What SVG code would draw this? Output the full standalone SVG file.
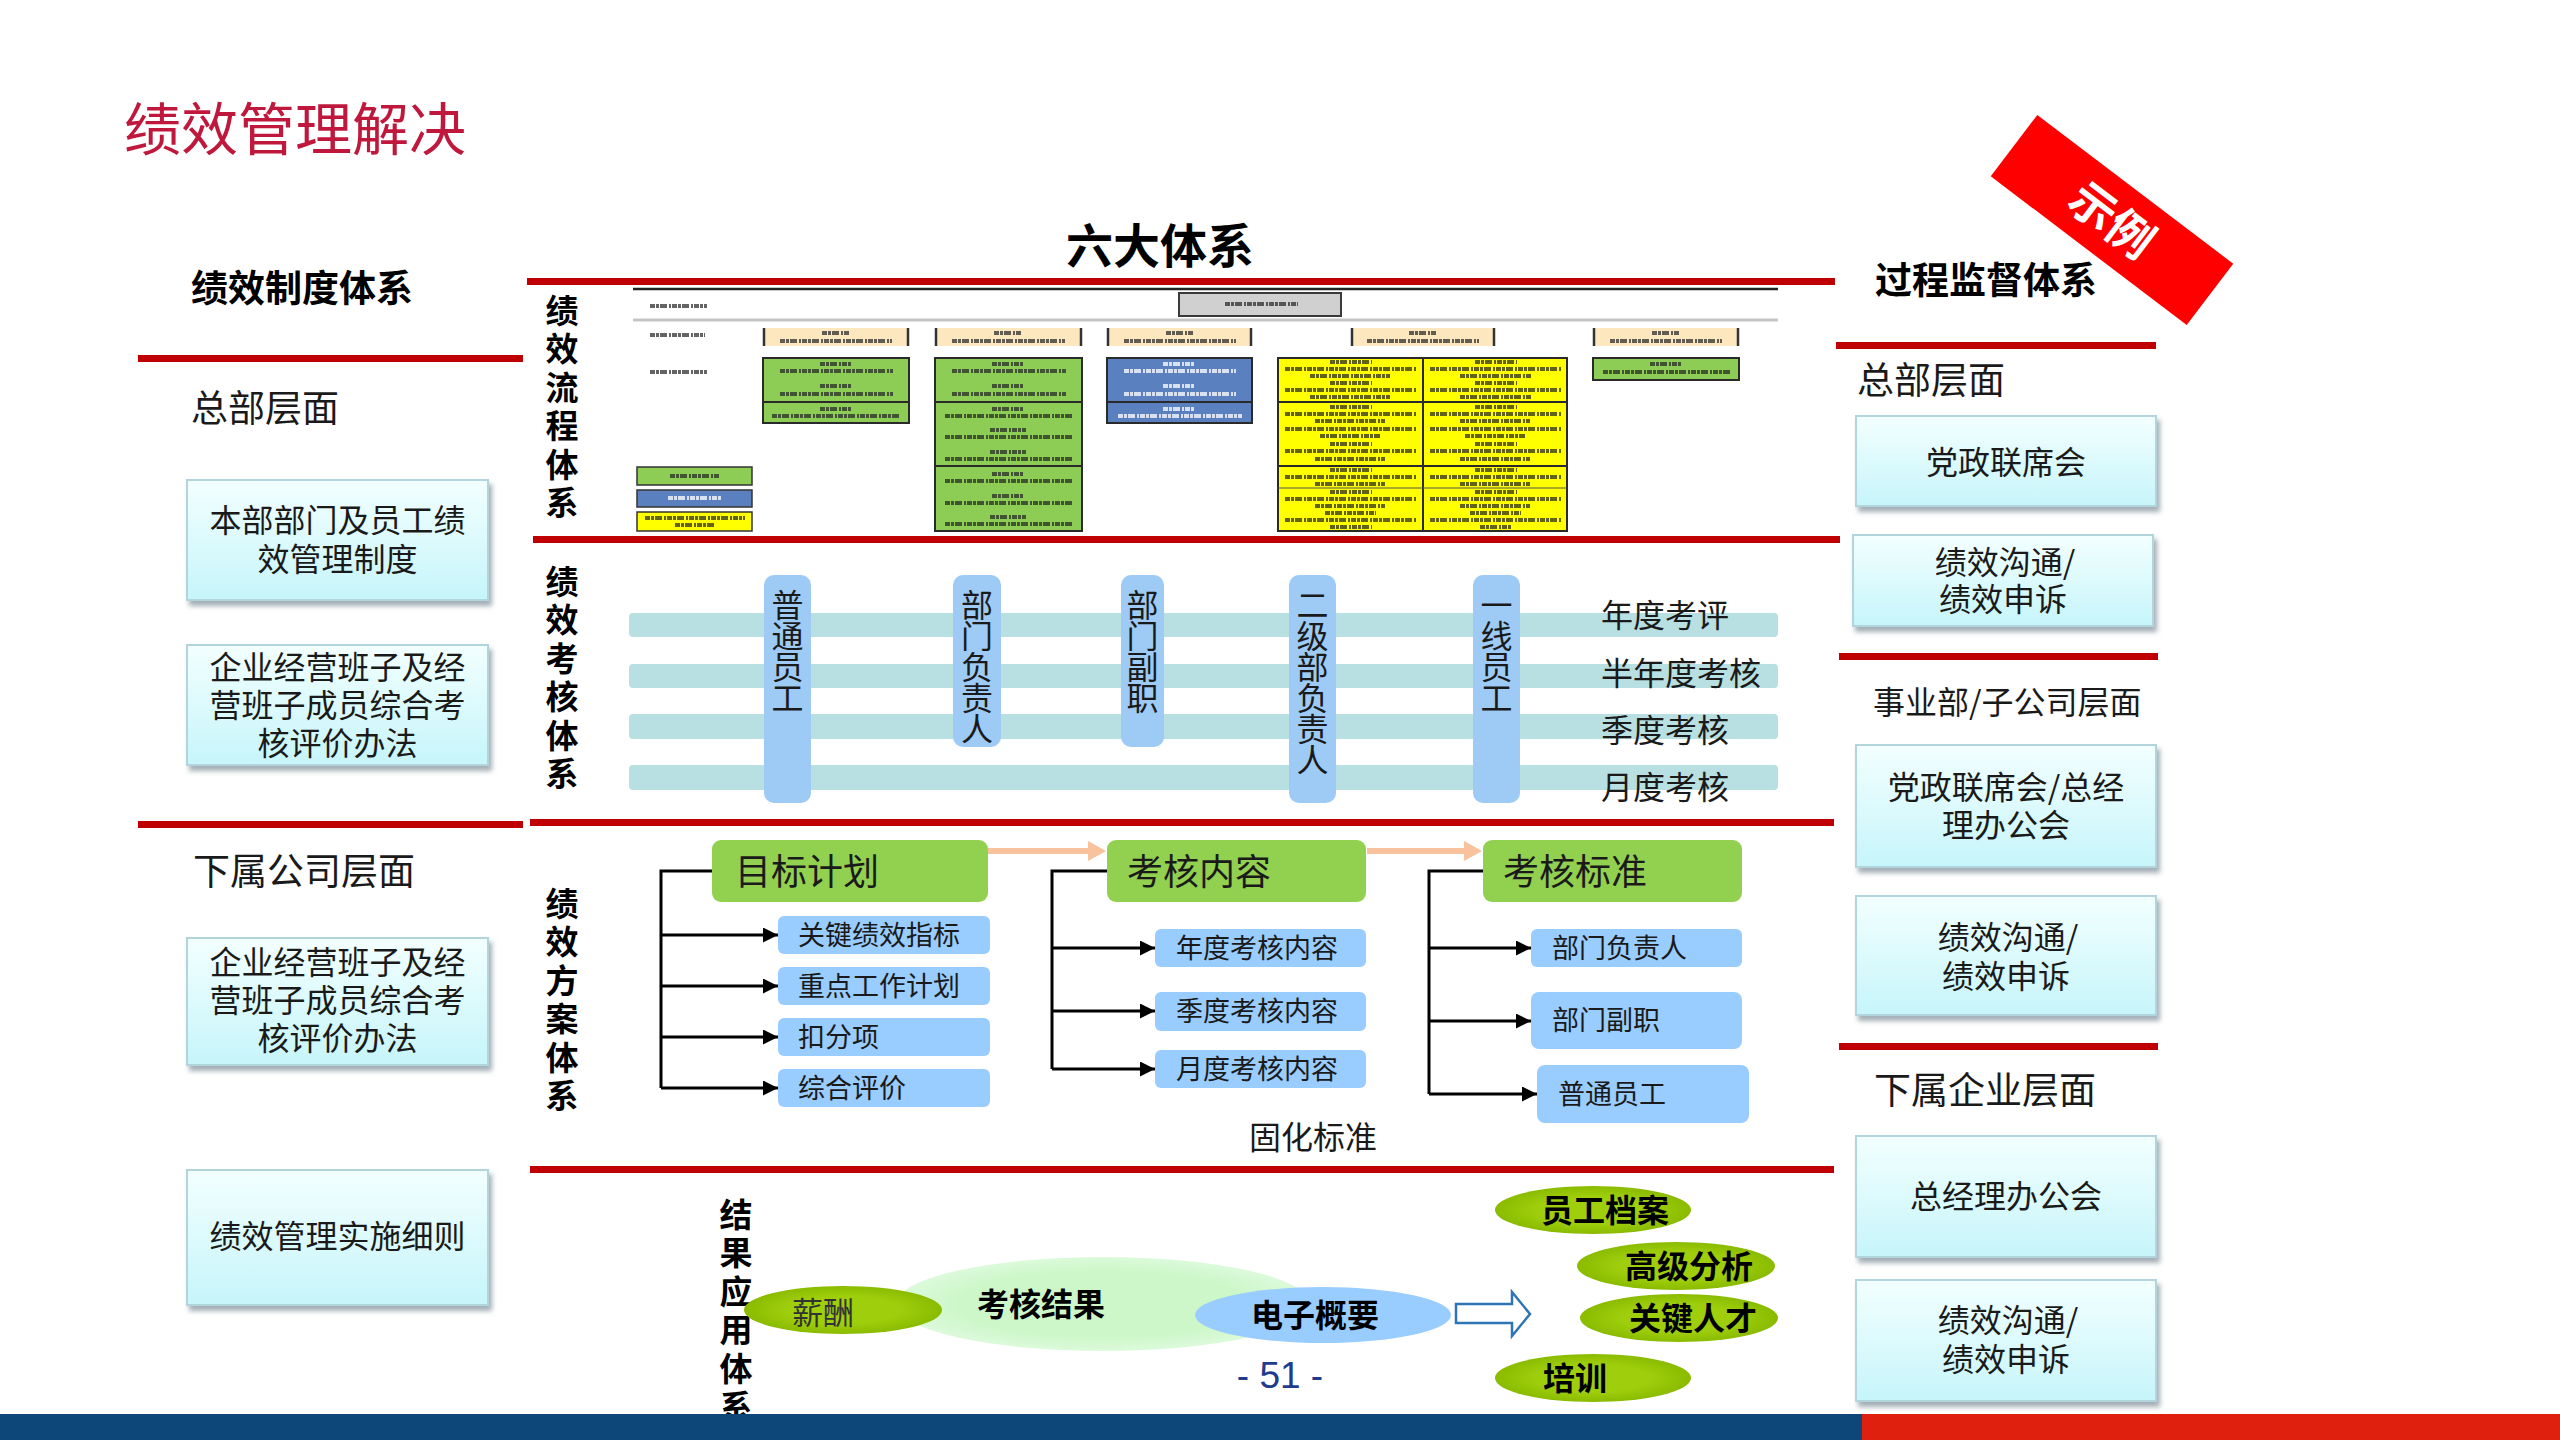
<svg xmlns="http://www.w3.org/2000/svg" width="2560" height="1440" viewBox="0 0 2560 1440">
<defs>
  <linearGradient id="cy" x1="0" y1="0" x2="0" y2="1">
    <stop offset="0" stop-color="#f3ffff"/>
    <stop offset="1" stop-color="#c6f5fa"/>
  </linearGradient>
  <filter id="sh" x="-5%" y="-10%" width="115%" height="130%">
    <feDropShadow dx="3" dy="5" stdDeviation="2.5" flood-color="#7c8c96" flood-opacity="0.7"/>
  </filter>
  <radialGradient id="yg" cx="0.5" cy="0.5" r="0.5">
    <stop offset="0.55" stop-color="#9fcf0c"/>
    <stop offset="1" stop-color="#8bbb00"/>
  </radialGradient>
  <radialGradient id="lg" cx="0.5" cy="0.5" r="0.5">
    <stop offset="0.7" stop-color="#cdf7c9"/>
    <stop offset="1" stop-color="#dcfadb"/>
  </radialGradient>
  <marker id="ah" viewBox="0 0 10 10" refX="10" refY="5" markerWidth="5" markerHeight="5" orient="auto" markerUnits="strokeWidth">
    <path d="M0,0 L10,5 L0,10 z" fill="#000"/>
  </marker>
</defs>
<style>
  text{font-family:"Noto Sans CJK SC","Noto Sans",sans-serif;fill:#1a1a1a}
  .t32{font-size:32px}
  .t37{font-size:37px}
  .t27{font-size:27px}
  .t36{font-size:36px}
  .b37{font-size:37px;font-weight:bold;fill:#000}
  .b32{font-size:32px;font-weight:bold;fill:#000}
  .v{font-size:33px;font-weight:bold;fill:#000;writing-mode:vertical-rl;letter-spacing:5.5px}
  .vp{font-size:32px;writing-mode:vertical-rl;letter-spacing:-1px}
  .mid{text-anchor:middle}
  .rl{fill:#c00000}
  .box{fill:url(#cy);stroke:#b2d4dc;stroke-width:2;filter:url(#sh)}
  .band{fill:#b8dfe1}
  .pill{fill:#9dcbf6}
  .gh{fill:#92d050}
  .bb{fill:#99ccff}
  .conn{stroke:#000;stroke-width:3;fill:none}
  .ye{fill:url(#yg)}
  .st{stroke:#222;stroke-width:4;stroke-dasharray:5 1 3 1 7 2 2 1;opacity:.7;fill:none}
  .sw{stroke:#eef2fb;stroke-width:4;stroke-dasharray:5 1 3 1 7 2 2 1;opacity:.85;fill:none}
  .bd{stroke:#2a2a2a;stroke-width:2;fill:none}
</style>
<rect width="2560" height="1440" fill="#fff"/>

<!-- title -->
<text x="124" y="150" style="font-size:57px;fill:#c0183c">绩效管理解决</text>

<!-- red separator lines -->
<g id="separators">
  <rect class="rl" x="138" y="355" width="385" height="7"/>
  <rect class="rl" x="138" y="821" width="385" height="7"/>
  <rect class="rl" x="527" y="278" width="1308" height="7"/>
  <rect class="rl" x="533" y="536" width="1307" height="7"/>
  <rect class="rl" x="530" y="819" width="1304" height="7"/>
  <rect class="rl" x="530" y="1166" width="1304" height="7"/>
  <rect class="rl" x="1836" y="342" width="320" height="7"/>
  <rect class="rl" x="1839" y="653" width="319" height="7"/>
  <rect class="rl" x="1839" y="1043" width="319" height="7"/>
</g>

<!-- left column -->
<g id="left-column">
  <text class="b37" x="191" y="302">绩效制度体系</text>
  <text class="t37" x="191" y="422">总部层面</text>
  <text class="t37" x="193" y="885">下属公司层面</text>
</g>
<g id="box-l1">
  <rect class="box" x="187" y="480" width="301" height="120"/>
  <text class="t32 mid"><tspan x="337.5" y="532">本部部门及员工绩</tspan><tspan x="337.5" y="571">效管理制度</tspan></text>
</g>
<g id="box-l2">
  <rect class="box" x="187" y="645" width="301" height="120"/>
  <text class="t32 mid"><tspan x="337.5" y="679">企业经营班子及经</tspan><tspan x="337.5" y="717">营班子成员综合考</tspan><tspan x="337.5" y="755">核评价办法</tspan></text>
</g>
<g id="box-l3">
  <rect class="box" x="187" y="938" width="301" height="127"/>
  <text class="t32 mid"><tspan x="337.5" y="974">企业经营班子及经</tspan><tspan x="337.5" y="1012">营班子成员综合考</tspan><tspan x="337.5" y="1050">核评价办法</tspan></text>
</g>
<g id="box-l4">
  <rect class="box" x="187" y="1170" width="301" height="135"/>
  <text class="t32 mid" x="337.5" y="1248">绩效管理实施细则</text>
</g>

<!-- right column -->
<g id="right-column">
  <text class="b37" x="1875" y="294">过程监督体系</text>
  <text class="t37" x="1857" y="394">总部层面</text>
  <text class="t32" x="1873" y="714">事业部/子公司层面</text>
  <text class="t37" x="1874" y="1104">下属企业层面</text>
</g>
<g id="box-r1">
  <rect class="box" x="1856" y="416" width="300" height="90"/>
  <text class="t32 mid" x="2006" y="474">党政联席会</text>
</g>
<g id="box-r2">
  <rect class="box" x="1853" y="535" width="300" height="91"/>
  <text class="t32 mid"><tspan x="2005" y="574">绩效沟通/</tspan><tspan x="2003" y="611">绩效申诉</tspan></text>
</g>
<g id="box-r3">
  <rect class="box" x="1856" y="745" width="300" height="122"/>
  <text class="t32 mid"><tspan x="2006" y="799">党政联席会/总经</tspan><tspan x="2006" y="837">理办公会</tspan></text>
</g>
<g id="box-r4">
  <rect class="box" x="1856" y="896" width="300" height="119"/>
  <text class="t32 mid"><tspan x="2008" y="949">绩效沟通/</tspan><tspan x="2006" y="988">绩效申诉</tspan></text>
</g>
<g id="box-r5">
  <rect class="box" x="1856" y="1136" width="300" height="121"/>
  <text class="t32 mid" x="2006" y="1208">总经理办公会</text>
</g>
<g id="box-r6">
  <rect class="box" x="1856" y="1280" width="300" height="121"/>
  <text class="t32 mid"><tspan x="2008" y="1332">绩效沟通/</tspan><tspan x="2006" y="1371">绩效申诉</tspan></text>
</g>

<!-- banner -->
<g id="banner" transform="translate(2112 220) rotate(37.2)">
  <rect x="-123" y="-38.5" width="246" height="77" fill="#ff0000"/>
  <text x="0" y="17" text-anchor="middle" style="font-size:46px;font-weight:bold;fill:#fff">示例</text>
</g>

<!-- center heading -->
<text class="mid" x="1160" y="263" style="font-size:47px;font-weight:bold;fill:#000">六大体系</text>

<!-- section 1: process chart -->
<g id="sec1-label">
  <text class="v" x="562" y="293.5">绩效流程体系</text>
</g>
<g id="process-chart">
  <line x1="633" y1="289" x2="1778" y2="289" stroke="#222" stroke-width="2.5"/>
  <line x1="633" y1="320" x2="1778" y2="320" stroke="#c6c6c6" stroke-width="3"/>
  <line class="st" x1="650" y1="306" x2="707" y2="306"/>
  <line class="st" x1="650" y1="335" x2="705" y2="335"/>
  <line class="st" x1="650" y1="372" x2="707" y2="372"/>
  <rect x="1179" y="293" width="162" height="23" fill="#d0d0d0" stroke="#3a3a3a" stroke-width="2"/>
  <line class="st" x1="1225" y1="304" x2="1298" y2="304"/>
  <!-- header boxes -->
  <g fill="#fde7bf">
    <rect x="763" y="328" width="146" height="18"/>
    <rect x="935" y="328" width="147" height="18"/>
    <rect x="1107" y="328" width="145" height="18"/>
    <rect x="1351" y="328" width="144" height="18"/>
    <rect x="1593" y="328" width="146" height="18"/>
  </g>
  <g stroke="#333" stroke-width="2.5">
    <line x1="764" y1="328" x2="764" y2="346"/><line x1="908" y1="328" x2="908" y2="346"/>
    <line x1="936" y1="328" x2="936" y2="346"/><line x1="1081" y1="328" x2="1081" y2="346"/>
    <line x1="1108" y1="328" x2="1108" y2="346"/><line x1="1251" y1="328" x2="1251" y2="346"/>
    <line x1="1352" y1="328" x2="1352" y2="346"/><line x1="1494" y1="328" x2="1494" y2="346"/>
    <line x1="1594" y1="328" x2="1594" y2="346"/><line x1="1738" y1="328" x2="1738" y2="346"/>
  </g>
  <g class="st">
    <line x1="822" y1="333" x2="850" y2="333"/><line x1="780" y1="341" x2="892" y2="341"/>
    <line x1="994" y1="333" x2="1022" y2="333"/><line x1="952" y1="341" x2="1065" y2="341"/>
    <line x1="1166" y1="333" x2="1194" y2="333"/><line x1="1124" y1="341" x2="1236" y2="341"/>
    <line x1="1409" y1="333" x2="1437" y2="333"/><line x1="1367" y1="341" x2="1479" y2="341"/>
    <line x1="1652" y1="333" x2="1680" y2="333"/><line x1="1610" y1="341" x2="1722" y2="341"/>
  </g>
  <!-- col1 green -->
  <rect x="763" y="358" width="146" height="65" fill="#8dcc55" stroke="#2a2a2a" stroke-width="2"/>
  <line class="bd" x1="763" y1="402" x2="909" y2="402"/>
  <!-- col2 green -->
  <rect x="935" y="358" width="147" height="173" fill="#8dcc55" stroke="#2a2a2a" stroke-width="2"/>
  <line class="bd" x1="935" y1="402" x2="1082" y2="402"/>
  <line class="bd" x1="935" y1="466" x2="1082" y2="466"/>
  <!-- col3 blue -->
  <rect x="1107" y="358" width="145" height="65" fill="#5a80bf" stroke="#2a2a2a" stroke-width="2"/>
  <line class="bd" x1="1107" y1="402" x2="1252" y2="402"/>
  <!-- col4 yellow -->
  <rect x="1278" y="358" width="289" height="173" fill="#ffff00" stroke="#2a2a2a" stroke-width="2"/>
  <line class="bd" x1="1423" y1="358" x2="1423" y2="531"/>
  <line class="bd" x1="1278" y1="402" x2="1567" y2="402"/>
  <line class="bd" x1="1278" y1="466" x2="1567" y2="466"/>
  <line x1="1278" y1="488" x2="1567" y2="488" stroke="#555" stroke-width="1"/>
  <!-- col5 green -->
  <rect x="1593" y="358" width="146" height="22" fill="#8dcc55" stroke="#2a2a2a" stroke-width="2"/>
  <!-- legend -->
  <rect x="637" y="467" width="115" height="18" fill="#8dcc55" stroke="#333" stroke-width="1.5"/>
  <rect x="637" y="490" width="115" height="17" fill="#5a80bf" stroke="#333" stroke-width="1.5"/>
  <rect x="637" y="512" width="115" height="19" fill="#ffff00" stroke="#333" stroke-width="1.5"/>
  <line class="st" x1="670" y1="476" x2="720" y2="476"/>
  <line class="sw" x1="668" y1="498" x2="722" y2="498"/>
  <line class="st" x1="645" y1="518" x2="745" y2="518"/>
  <line class="st" x1="675" y1="525" x2="715" y2="525"/>
  <!-- pseudo text in blocks -->
  <g class="st">
    <line x1="820" y1="364" x2="852" y2="364"/><line x1="780" y1="371" x2="893" y2="371"/>
    <line x1="820" y1="386" x2="852" y2="386"/><line x1="780" y1="394" x2="893" y2="394"/>
    <line x1="820" y1="409" x2="852" y2="409"/><line x1="772" y1="416" x2="900" y2="416"/>
    <line x1="992" y1="364" x2="1024" y2="364"/><line x1="952" y1="371" x2="1066" y2="371"/>
    <line x1="992" y1="386" x2="1024" y2="386"/><line x1="952" y1="394" x2="1066" y2="394"/>
    <line x1="992" y1="409" x2="1024" y2="409"/><line x1="945" y1="416" x2="1072" y2="416"/>
    <line x1="990" y1="430" x2="1026" y2="430"/><line x1="945" y1="437" x2="1072" y2="437"/>
    <line x1="990" y1="452" x2="1026" y2="452"/><line x1="945" y1="459" x2="1072" y2="459"/>
    <line x1="992" y1="474" x2="1024" y2="474"/><line x1="945" y1="481" x2="1072" y2="481"/>
    <line x1="992" y1="496" x2="1024" y2="496"/><line x1="945" y1="503" x2="1072" y2="503"/>
    <line x1="990" y1="517" x2="1026" y2="517"/><line x1="945" y1="524" x2="1072" y2="524"/>
    <line x1="1650" y1="364" x2="1682" y2="364"/><line x1="1603" y1="372" x2="1730" y2="372"/>
  </g>
  <g class="sw">
    <line x1="1163" y1="364" x2="1195" y2="364"/><line x1="1124" y1="371" x2="1236" y2="371"/>
    <line x1="1163" y1="386" x2="1195" y2="386"/><line x1="1124" y1="394" x2="1236" y2="394"/>
    <line x1="1163" y1="409" x2="1195" y2="409"/><line x1="1118" y1="416" x2="1242" y2="416"/>
  </g>
  <g class="st">
    <line x1="1330" y1="362" x2="1372" y2="362"/><line x1="1285" y1="369" x2="1416" y2="369"/>
    <line x1="1310" y1="376" x2="1390" y2="376"/><line x1="1330" y1="383" x2="1372" y2="383"/>
    <line x1="1285" y1="390" x2="1416" y2="390"/><line x1="1310" y1="397" x2="1390" y2="397"/>
    <line x1="1330" y1="407" x2="1372" y2="407"/><line x1="1285" y1="414" x2="1416" y2="414"/>
    <line x1="1315" y1="421" x2="1385" y2="421"/><line x1="1285" y1="429" x2="1416" y2="429"/>
    <line x1="1320" y1="436" x2="1380" y2="436"/><line x1="1330" y1="444" x2="1372" y2="444"/>
    <line x1="1285" y1="451" x2="1416" y2="451"/><line x1="1315" y1="459" x2="1385" y2="459"/>
    <line x1="1330" y1="470" x2="1372" y2="470"/><line x1="1285" y1="477" x2="1416" y2="477"/>
    <line x1="1315" y1="484" x2="1385" y2="484"/><line x1="1330" y1="492" x2="1372" y2="492"/>
    <line x1="1285" y1="499" x2="1416" y2="499"/><line x1="1315" y1="506" x2="1385" y2="506"/>
    <line x1="1325" y1="513" x2="1376" y2="513"/><line x1="1285" y1="520" x2="1416" y2="520"/>
    <line x1="1330" y1="527" x2="1372" y2="527"/>
    <line x1="1475" y1="362" x2="1517" y2="362"/><line x1="1430" y1="369" x2="1561" y2="369"/>
    <line x1="1460" y1="376" x2="1532" y2="376"/><line x1="1475" y1="383" x2="1517" y2="383"/>
    <line x1="1430" y1="390" x2="1561" y2="390"/><line x1="1460" y1="397" x2="1532" y2="397"/>
    <line x1="1475" y1="407" x2="1517" y2="407"/><line x1="1430" y1="414" x2="1561" y2="414"/>
    <line x1="1460" y1="421" x2="1530" y2="421"/><line x1="1430" y1="429" x2="1561" y2="429"/>
    <line x1="1465" y1="436" x2="1525" y2="436"/><line x1="1475" y1="444" x2="1517" y2="444"/>
    <line x1="1430" y1="451" x2="1561" y2="451"/><line x1="1460" y1="459" x2="1530" y2="459"/>
    <line x1="1475" y1="470" x2="1517" y2="470"/><line x1="1430" y1="477" x2="1561" y2="477"/>
    <line x1="1460" y1="484" x2="1530" y2="484"/><line x1="1475" y1="492" x2="1517" y2="492"/>
    <line x1="1430" y1="499" x2="1561" y2="499"/><line x1="1460" y1="506" x2="1530" y2="506"/>
    <line x1="1470" y1="513" x2="1521" y2="513"/><line x1="1430" y1="520" x2="1561" y2="520"/>
    <line x1="1480" y1="527" x2="1512" y2="527"/>
  </g>
</g>

<!-- section 2: assessment system -->
<g id="sec2-label">
  <text class="v" x="562" y="564.5">绩效考核体系</text>
</g>
<g id="bands">
  <rect class="band" x="629" y="613" width="1149" height="24" rx="4"/>
  <rect class="band" x="629" y="664" width="1149" height="24" rx="4"/>
  <rect class="band" x="629" y="714" width="1149" height="25" rx="4"/>
  <rect class="band" x="629" y="765" width="1149" height="25" rx="4"/>
  <text class="t32" x="1601" y="627">年度考评</text>
  <text class="t32" x="1601" y="685">半年度考核</text>
  <text class="t32" x="1601" y="742">季度考核</text>
  <text class="t32" x="1601" y="799">月度考核</text>
</g>
<g id="pill-1">
  <rect class="pill" x="764" y="575" width="47" height="228" rx="10"/>
  <text class="vp" x="787.5" y="588.5">普通员工</text>
</g>
<g id="pill-2">
  <rect class="pill" x="953" y="575" width="48" height="172" rx="10"/>
  <text class="vp" x="977" y="588.5">部门负责人</text>
</g>
<g id="pill-3">
  <rect class="pill" x="1121" y="575" width="43" height="172" rx="10"/>
  <text class="vp" x="1142.5" y="588.5">部门副职</text>
</g>
<g id="pill-4">
  <rect class="pill" x="1289" y="575" width="47" height="228" rx="10"/>
  <text class="vp" x="1312.5" y="588.5">二级部负责人</text>
</g>
<g id="pill-5">
  <rect class="pill" x="1473" y="575" width="47" height="228" rx="10"/>
  <text class="vp" x="1496.5" y="588.5">一线员工</text>
</g>

<!-- section 3: plan system -->
<g id="sec3-label">
  <text class="v" x="562" y="886.5">绩效方案体系</text>
</g>
<g id="connectors">
  <path class="conn" d="M712,871 H661 V1088"/>
  <line class="conn" x1="661" y1="935" x2="778" y2="935" marker-end="url(#ah)"/>
  <line class="conn" x1="661" y1="986" x2="778" y2="986" marker-end="url(#ah)"/>
  <line class="conn" x1="661" y1="1037" x2="778" y2="1037" marker-end="url(#ah)"/>
  <line class="conn" x1="661" y1="1088" x2="778" y2="1088" marker-end="url(#ah)"/>
  <path class="conn" d="M1107,871 H1052 V1069"/>
  <line class="conn" x1="1052" y1="948" x2="1155" y2="948" marker-end="url(#ah)"/>
  <line class="conn" x1="1052" y1="1011" x2="1155" y2="1011" marker-end="url(#ah)"/>
  <line class="conn" x1="1052" y1="1069" x2="1155" y2="1069" marker-end="url(#ah)"/>
  <path class="conn" d="M1483,871 H1429 V1094"/>
  <line class="conn" x1="1429" y1="948" x2="1531" y2="948" marker-end="url(#ah)"/>
  <line class="conn" x1="1429" y1="1021" x2="1531" y2="1021" marker-end="url(#ah)"/>
  <line class="conn" x1="1429" y1="1094" x2="1537" y2="1094" marker-end="url(#ah)"/>
  <line x1="988" y1="851" x2="1090" y2="851" stroke="#f8c29c" stroke-width="6"/>
  <polygon points="1088,841 1106,851 1088,861" fill="#f8c29c"/>
  <line x1="1367" y1="851" x2="1466" y2="851" stroke="#f8c29c" stroke-width="6"/>
  <polygon points="1464,841 1482,851 1464,861" fill="#f8c29c"/>
  <path d="M1456,1304 H1512 V1292 L1530,1314 L1512,1336 V1323 H1456 Z" fill="#fff" stroke="#2e75b6" stroke-width="2.5"/>
</g>
<g id="head-1">
  <rect class="gh" x="712" y="840" width="276" height="62" rx="9"/>
  <text class="t36" x="735" y="885">目标计划</text>
</g>
<g id="head-2">
  <rect class="gh" x="1107" y="840" width="259" height="62" rx="9"/>
  <text class="t36" x="1127" y="885">考核内容</text>
</g>
<g id="head-3">
  <rect class="gh" x="1483" y="840" width="259" height="62" rx="9"/>
  <text class="t36" x="1503" y="885">考核标准</text>
</g>
<g id="col1-items">
  <rect class="bb" x="778" y="916" width="212" height="38" rx="6"/>
  <text class="t27" x="798" y="945">关键绩效指标</text>
  <rect class="bb" x="778" y="967" width="212" height="38" rx="6"/>
  <text class="t27" x="798" y="996">重点工作计划</text>
  <rect class="bb" x="778" y="1018" width="212" height="38" rx="6"/>
  <text class="t27" x="798" y="1047">扣分项</text>
  <rect class="bb" x="778" y="1069" width="212" height="38" rx="6"/>
  <text class="t27" x="798" y="1098">综合评价</text>
</g>
<g id="col2-items">
  <rect class="bb" x="1155" y="929" width="211" height="38" rx="6"/>
  <text class="t27" x="1176" y="958">年度考核内容</text>
  <rect class="bb" x="1155" y="992" width="211" height="39" rx="6"/>
  <text class="t27" x="1176" y="1021">季度考核内容</text>
  <rect class="bb" x="1155" y="1050" width="211" height="38" rx="6"/>
  <text class="t27" x="1176" y="1079">月度考核内容</text>
</g>
<g id="col3-items">
  <rect class="bb" x="1531" y="929" width="211" height="38" rx="6"/>
  <text class="t27" x="1552" y="958">部门负责人</text>
  <rect class="bb" x="1531" y="992" width="211" height="57" rx="8"/>
  <text class="t27" x="1552" y="1030">部门副职</text>
  <rect class="bb" x="1537" y="1065" width="212" height="58" rx="8"/>
  <text class="t27" x="1558" y="1104">普通员工</text>
</g>
<text class="t32" x="1249" y="1149">固化标准</text>

<!-- section 4: result application -->
<g id="sec4-label">
  <text class="v" x="736" y="1197.5">结果应用体系</text>
</g>
<g id="result">
  <ellipse cx="1103" cy="1304" rx="207" ry="47" fill="url(#lg)"/>
  <text class="b32" x="977" y="1316">考核结果</text>
</g>
<g id="salary">
  <ellipse class="ye" cx="843" cy="1310" rx="99" ry="24"/>
  <text style="font-size:31px;fill:#333" x="792" y="1324">薪酬</text>
</g>
<g id="summary">
  <ellipse cx="1323" cy="1315" rx="128" ry="28" fill="#99ccff"/>
  <text class="b32" x="1251" y="1327">电子概要</text>
</g>
<g id="archive">
  <ellipse class="ye" cx="1593" cy="1210" rx="98" ry="24"/>
  <text class="b32" x="1541" y="1222">员工档案</text>
</g>
<g id="analysis">
  <ellipse class="ye" cx="1676" cy="1266" rx="99" ry="24"/>
  <text class="b32" x="1625" y="1278">高级分析</text>
</g>
<g id="talent">
  <ellipse class="ye" cx="1679" cy="1318" rx="99" ry="24"/>
  <text class="b32" x="1629" y="1330">关键人才</text>
</g>
<g id="training">
  <ellipse class="ye" cx="1593" cy="1378" rx="98" ry="24"/>
  <text class="b32" x="1543" y="1390">培训</text>
</g>

<text x="1280" y="1388" text-anchor="middle" style="font-family:'Liberation Sans',Arial,sans-serif;font-size:37px;fill:#1f3c8c">- 51 -</text>

<!-- footer bar -->
<rect x="0" y="1414" width="1862" height="26" fill="#0d4679"/>
<rect x="1862" y="1414" width="698" height="26" fill="#e0200f"/>
</svg>
